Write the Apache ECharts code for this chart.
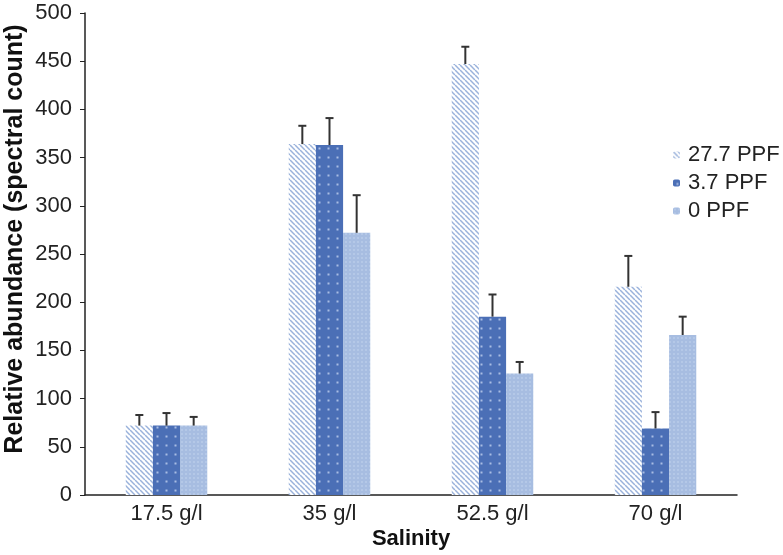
<!DOCTYPE html>
<html>
<head>
<meta charset="utf-8">
<script src="https://cdn.jsdelivr.net/npm/echarts@6/dist/echarts.min.js"></script>
<style>
  html, body { margin: 0; padding: 0; background: #fff; }
  #chart { width: 783px; height: 555px; }
</style>
</head>
<body>
<div id="chart"></div>
<script>
const categories = ['17.5 g/l', '35 g/l', '52.5 g/l', '70 g/l']
const seriesNames = ['27.7 PPF', '3.7 PPF', '0 PPF']
const ppf277 = [72, 364, 447, 216]
const ppf37 = [72, 363, 185, 69]
const ppf0 = [72, 272, 126, 166]
// upper end of each error bar
const ppf277Err = [83, 383, 465, 248]
const ppf37Err = [85, 391, 208, 86]
const ppf0Err = [81, 311, 138, 185]

const values = [ppf277, ppf37, ppf0]
const errTops = [ppf277Err, ppf37Err, ppf0Err]

// fill patterns
const makeHatch = () => {
  const c = document.createElement('canvas')
  c.width = 5; c.height = 5
  const ctx = c.getContext('2d')
  ctx.fillStyle = '#ffffff'
  ctx.fillRect(0, 0, 5, 5)
  ctx.strokeStyle = '#9ab2db'
  ctx.lineWidth = 1.5
  for (let k = -5; k <= 10; k += 5) {
    ctx.beginPath()
    ctx.moveTo(k, 0)
    ctx.lineTo(k + 5, 5)
    ctx.stroke()
  }
  return c
}

const makeDots = (bg, dot, size) => {
  const c = document.createElement('canvas')
  c.width = size; c.height = size
  const ctx = c.getContext('2d')
  ctx.fillStyle = bg
  ctx.fillRect(0, 0, size, size)
  ctx.fillStyle = dot
  ctx.fillRect(size / 2 - 1, size / 2 - 1, 2, 2)
  return c
}

const fills = [
  { image: makeHatch(), repeat: 'repeat' },
  { image: makeDots('#4b6fb6', '#a9bde3', 9), repeat: 'repeat' },
  { image: makeDots('#a7bde1', '#b4c8e7', 4), repeat: 'repeat' }
]

const chart = echarts.init(document.getElementById('chart'))
const font = "'Liberation Sans', Arial, sans-serif"

const barSeries = seriesNames.map((name, i) => ({
  name: name,
  type: 'bar',
  data: values[i],
  barGap: '0%',
  barCategoryGap: '50%',
  itemStyle: { color: fills[i] },
  z: 2
}))

const errSeries = seriesNames.map((name, i) => ({
  type: 'custom',
  name: name + ' err',
  data: values[i].map((v, j) => [j, v, errTops[i][j]]),
  z: 3,
  silent: true,
  renderItem: (params, api) => {
    const base = api.coord([api.value(0), api.value(1)])
    const top = api.coord([api.value(0), api.value(2)])
    const band = api.size([1, 0])[0]
    const x = base[0] + (i - 1) * band / 6
    const cap = 4
    return {
      type: 'group',
      children: [
        { type: 'line', shape: { x1: x, y1: base[1], x2: x, y2: top[1] }, style: { stroke: '#333', lineWidth: 2 } },
        { type: 'line', shape: { x1: x - cap, y1: top[1], x2: x + cap, y2: top[1] }, style: { stroke: '#333', lineWidth: 2 } }
      ]
    }
  }
}))

const option = {
  animation: false,
  backgroundColor: '#ffffff',
  textStyle: { fontFamily: font },
  grid: { left: 85, right: 46, top: 13, bottom: 60, outerBoundsMode: 'none', containLabel: false },
  legend: {
    data: seriesNames,
    orient: 'vertical',
    left: 668,
    top: 139,
    itemWidth: 7,
    itemHeight: 7,
    itemGap: 6,
    textStyle: { fontSize: 22, color: '#222', fontFamily: font, padding: [0, 0, 0, 3] }
  },
  xAxis: {
    type: 'category',
    data: categories,
    name: 'Salinity',
    nameLocation: 'middle',
    nameGap: 33,
    nameMoveOverlap: false,
    nameTextStyle: { fontSize: 22, fontWeight: 'bold', color: '#111' },
    axisLine: { lineStyle: { color: '#222', width: 1.5 } },
    axisTick: { show: false },
    axisLabel: { fontSize: 22, color: '#222', margin: 8 }
  },
  yAxis: {
    type: 'value',
    min: 0,
    max: 500,
    interval: 50,
    name: 'Relative abundance (spectral count)',
    nameLocation: 'middle',
    nameGap: 57,
    nameMoveOverlap: false,
    nameTextStyle: { fontSize: 25, fontWeight: 'bold', color: '#111', padding: [0, 0, 0, 30] },
    axisLine: { show: true, lineStyle: { color: '#222', width: 1.5 } },
    axisTick: { show: true, length: 5, lineStyle: { color: '#222' } },
    axisLabel: { fontSize: 22, color: '#222', margin: 13 },
    splitLine: { show: false }
  },
  series: barSeries.concat(errSeries)
}

chart.setOption(option)
</script>
</body>
</html>
